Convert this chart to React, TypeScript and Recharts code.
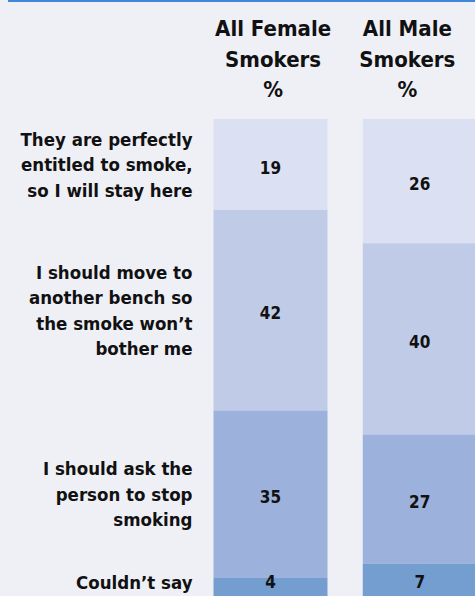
import { BarChart, Bar, XAxis, YAxis, LabelList } from 'recharts'

const FONT = "'DejaVu Sans Condensed', 'DejaVu Sans', sans-serif"
const BG = '#eff0f6'

const groups = ['All Female Smokers', 'All Male Smokers']
const groupLines = [
  ['All Female', 'Smokers', '%'],
  ['All Male', 'Smokers', '%'],
]

// answers, top to bottom
const answerLines = [
  ['They are perfectly', 'entitled to smoke,', 'so I will stay here'],
  ['I should move to', 'another bench so', 'the smoke won\u2019t', 'bother me'],
  ['I should ask the', 'person to stop', 'smoking'],
  ['Couldn\u2019t say'],
]
const stayValues = [19, 26]
const moveValues = [42, 40]
const askValues = [35, 27]
const unsureValues = [4, 7]

const COLORS = ['#dbe1f2', '#bfcbe7', '#9cb1dc', '#749dd0']
const keys = ['stay', 'move', 'ask', 'unsure']

const data = groups.map((g, i) => ({
  group: g,
  stay: stayValues[i],
  move: moveValues[i],
  ask: askValues[i],
  unsure: unsureValues[i],
}))

// left labels sit at the middle of each female segment
const femaleSeries = [stayValues[0], moveValues[0], askValues[0], unsureValues[0]]
const answerTicks = femaleSeries.map(
  (v, i) => femaleSeries.slice(0, i).reduce((a, b) => a + b, 0) + v / 2
)

// eslint-disable-next-line @typescript-eslint/no-explicit-any
function AnswerTick(props: any) {
  const { x, index } = props
  // keep the last (thin) label clear of the bottom edge
  const y = Math.min(props.y, 582)
  const lines = answerLines[index] || []
  const lh = 25.5
  const top = y - ((lines.length - 1) * lh) / 2
  return (
    <text x={x} y={top} textAnchor="end" fontFamily={FONT} fontWeight="bold" fontSize={18.5} fill="#111">
      {lines.map((l, i) => (
        <tspan key={i} x={x} y={top + i * lh} dy="0.36em">
          {l}
        </tspan>
      ))}
    </text>
  )
}

// eslint-disable-next-line @typescript-eslint/no-explicit-any
function GroupTick(props: any) {
  const { x, y, index } = props
  const lines = groupLines[index] || []
  return (
    <text x={x} y={y} textAnchor="middle" fontFamily={FONT} fontWeight="bold" fontSize={22} fill="#111">
      {lines.map((l, i) => (
        <tspan key={i} x={x + (index === 0 ? 3 : -12)} y={y - 81 + i * 30.5}>
          {l}
        </tspan>
      ))}
    </text>
  )
}

// eslint-disable-next-line @typescript-eslint/no-explicit-any
function ValueLabel(props: any) {
  const { x, y, width, height, value } = props
  const cy = Math.min(y + height / 2 + 3, 582)
  return (
    <text
      x={x + width / 2}
      y={cy}
      dy="0.36em"
      textAnchor="middle"
      fontFamily={FONT}
      fontWeight="bold"
      fontSize={17}
      fill="#111"
    >
      {value}
    </text>
  )
}

export default function App() {
  return (
    <div
      style={{
        position: 'absolute',
        left: 0,
        top: 0,
        width: 475,
        height: 596,
        overflow: 'hidden',
        background: BG,
      }}
    >
      <div style={{ position: 'absolute', left: 8, top: 0, width: 467, height: 2, background: '#3f87d8' }} />
      <BarChart
        width={494}
        height={597}
        data={data}
        barCategoryGap={0}
        barSize={114}
        margin={{ top: 0, right: 0, bottom: 0, left: 0 }}
      >
        <XAxis
          dataKey="group"
          orientation="top"
          height={119}
          axisLine={false}
          tickLine={false}
          tickSize={0}
          tickMargin={2}
          tick={<GroupTick />}
          interval={0}
        />
        <YAxis
          type="number"
          domain={[0, 100]}
          reversed
          ticks={answerTicks}
          width={195.5}
          axisLine={false}
          tickLine={false}
          tickSize={0}
          tickMargin={3}
          tick={<AnswerTick />}
          interval={0}
        />
        {keys.map((k, i) => (
          <Bar key={k} dataKey={k} stackId="a" fill={COLORS[i]} isAnimationActive={false}>
            <LabelList dataKey={k} content={<ValueLabel />} />
          </Bar>
        ))}
      </BarChart>
    </div>
  )
}
